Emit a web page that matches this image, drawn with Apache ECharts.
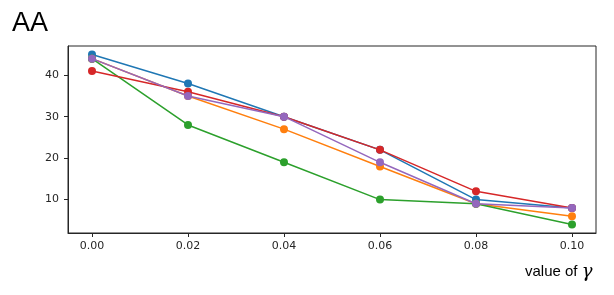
<!DOCTYPE html>
<html>
<head>
<meta charset="utf-8">
<script src="https://cdn.jsdelivr.net/npm/echarts@6/dist/echarts.min.js"></script>
<style>html,body{margin:0;padding:0;background:#fff}#c{width:614px;height:295px}</style>
</head>
<body>
<div id="c"></div>
<script>
const xValues = [0.00, 0.02, 0.04, 0.06, 0.08, 0.10];
const xTicks = [0.00, 0.02, 0.04, 0.06, 0.08, 0.10];
const yTicks = [10, 20, 30, 40];
const seriesBlue = [45, 38, 30, 22, 10, 8];
const seriesOrange = [44, 35, 27, 18, 9, 6];
const seriesGreen = [44, 28, 19, 10, 9, 4];
const seriesRed = [41, 36, 30, 22, 12, 8];
const seriesPurple = [44, 35, 30, 19, 9, 8];
const titleText = 'AA';
const xLabelText = 'value of ';

const colors = ['#1f77b4', '#ff7f0e', '#2ca02c', '#d62728', '#9467bd'];
const allSeries = [seriesBlue, seriesOrange, seriesGreen, seriesRed, seriesPurple];

const chart = echarts.init(document.getElementById('c'), null, {renderer: 'canvas'});
const tickFont = {fontFamily: 'DejaVu Sans', fontSize: 11, color: '#262626'};
chart.setOption({
  animation: false,
  grid: {left: 68, right: 18, top: 46, bottom: 62, show: true, borderColor: '#262626', borderWidth: 1, backgroundColor: 'transparent'},
  xAxis: {
    type: 'value', min: -0.005, max: 0.105,
    axisLine: {show: true, onZero: false, lineStyle: {color: '#262626', width: 1}},
    axisTick: {show: true, length: 4, customValues: xTicks, lineStyle: {color: '#262626'}},
    axisLabel: Object.assign({customValues: xTicks, margin: 8, formatter: v => v.toFixed(2)}, tickFont),
    splitLine: {show: false}
  },
  yAxis: {
    type: 'value', min: 1.95, max: 47.05,
    axisLine: {show: true, onZero: false, lineStyle: {color: '#262626', width: 1}},
    axisTick: {show: true, length: 4, customValues: yTicks, lineStyle: {color: '#262626'}},
    axisLabel: Object.assign({customValues: yTicks, margin: 9}, tickFont),
    splitLine: {show: false}
  },
  series: allSeries.map((s, i) => ({
    type: 'line',
    data: xValues.map((x, j) => [x, s[j]]),
    symbol: 'circle', symbolSize: 8,
    itemStyle: {color: colors[i]},
    lineStyle: {color: colors[i], width: 1.5},
    z: 2 + i
  })),
  graphic: [
    {type: 'text', left: 12, top: 10, style: {text: titleText, font: '27px "Liberation Sans", Arial, sans-serif', fill: '#000'}},
    {type: 'text', left: 525, top: 263, style: {
      text: '{a|' + xLabelText + '}{g|γ}',
      rich: {
        a: {font: '15px "Liberation Sans", Arial, sans-serif', fill: '#000'},
        g: {font: 'italic 18px "DejaVu Serif", serif', fill: '#000'}
      }
    }}
  ]
});
</script>
</body>
</html>
